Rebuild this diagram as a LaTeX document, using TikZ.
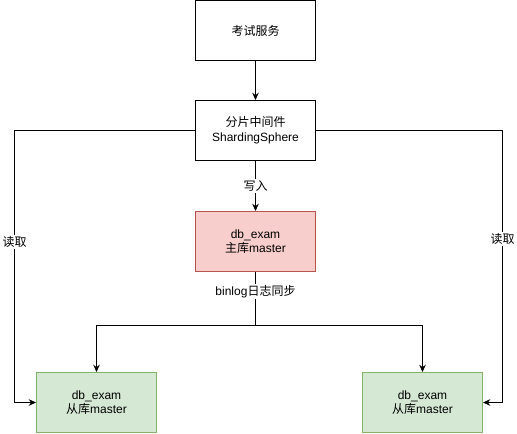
\documentclass[tikz,border=0pt]{standalone}
\usepackage{fontspec}
\setmainfont{Liberation Sans}
\newfontfamily\cjk{Noto Sans CJK SC}
\usetikzlibrary{arrows.meta}
\begin{document}
\begin{tikzpicture}[x=0.75pt,y=-0.75pt,
  box/.style={draw=black,line width=0.75pt,minimum width=90pt,minimum height=45pt,inner sep=0pt,align=center,font=\fontsize{9}{11}\selectfont},
  masterbox/.style={box,draw=red!50!black!70!white,fill=red!20!white},
  slavebox/.style={box,draw=green!40!black!60!white,fill=green!12!white},
  conn/.style={line width=0.75pt,-{Stealth[length=5.5pt,width=5pt]}},
  plain/.style={line width=0.75pt},
  lbl/.style={fill=white,inner sep=1pt,font=\fontsize{9}{11}\selectfont}]
\definecolor{mfill}{HTML}{F8CECC}\definecolor{mdraw}{HTML}{B85450}
\definecolor{sfill}{HTML}{D5E8D4}\definecolor{sdraw}{HTML}{82B366}
\useasboundingbox (0,0) rectangle (517,433);
\node[box] (top) at (255.5,30.5) {\cjk 考试服务};
\node[box] (mid) at (255.5,130.5) {{\cjk 分片中间件}\\ShardingSphere};
\node[box,draw=mdraw,fill=mfill] (master) at (255.5,241.5) {db\_exam\\{\cjk 主库}master};
\node[box,draw=sdraw,fill=sfill] (sl) at (96.5,402.5) {db\_exam\\{\cjk 从库}master};
\node[box,draw=sdraw,fill=sfill] (sr) at (422.5,402.5) {db\_exam\\{\cjk 从库}master};
\coordinate (lt) at (14.5,130.5);
\coordinate (lb) at (14.5,402.5);
\coordinate (rt) at (502.5,130.5);
\coordinate (rb) at (502.5,402.5);
\coordinate (bj) at (255.5,325.5);
\coordinate (bl) at (96.5,325.5);
\coordinate (br) at (422.5,325.5);
\draw[conn] (top) -- (mid);
\draw[conn] (mid) -- node[lbl,pos=0.5] (w) {\cjk 写入} (master);
\draw[conn] (mid.west) -- (lt) -- node[lbl,pos=0.41] (rl) {\cjk 读取} (lb) -- (sl.west);
\draw[conn] (mid.east) -- (rt) -- node[lbl,pos=0.4] (rr) {\cjk 读取} (rb) -- (sr.east);
\draw[plain] (master.south) -- node[lbl,pos=0.37] (bn) {binlog{\cjk 日志同步}} (bj);
\draw[conn] (bj) -- (bl) -- (sl.north);
\draw[conn] (bj) -- (br) -- (sr.north);
\end{tikzpicture}
\end{document}
